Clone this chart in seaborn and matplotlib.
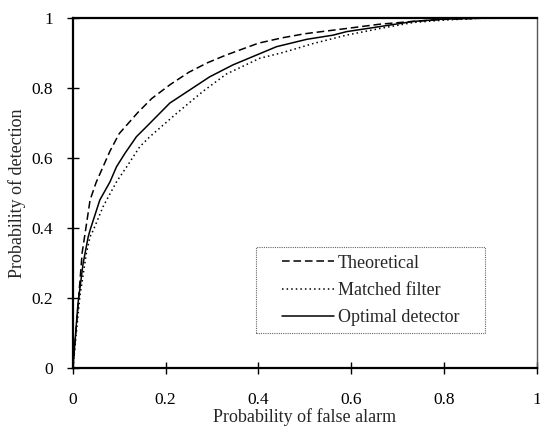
import pandas as pd
import matplotlib
matplotlib.use("Agg")
import matplotlib.pyplot as plt
from matplotlib.patches import Rectangle
import seaborn as sns

sns.set_style("ticks")
plt.rcParams['font.family'] = ['Liberation Serif', 'DejaVu Serif']

# ROC curves
theo_x = [0, 0.01, 0.02, 0.028, 0.037, 0.05, 0.065, 0.08, 0.1, 0.12, 0.14, 0.17, 0.21,
          0.25, 0.29, 0.33, 0.4, 0.45, 0.5, 0.59, 0.66, 0.73, 0.8, 0.9, 1.0]
theo_y = [0, 0.16, 0.33, 0.40, 0.48, 0.53, 0.575, 0.62, 0.67, 0.70, 0.73, 0.77, 0.81,
          0.845, 0.872, 0.894, 0.928, 0.943, 0.955, 0.97, 0.982, 0.99, 0.996, 1.0, 1.0]

mf_x = [0, 0.015, 0.029, 0.037, 0.044, 0.065, 0.094, 0.116, 0.144, 0.166, 0.224, 0.28,
        0.331, 0.403, 0.446, 0.475, 0.518, 0.59, 0.662, 0.733, 0.8, 0.877, 1.0]
mf_y = [0, 0.204, 0.328, 0.375, 0.394, 0.461, 0.532, 0.575, 0.632, 0.661, 0.728, 0.79,
        0.84, 0.885, 0.899, 0.91, 0.927, 0.951, 0.97, 0.987, 0.994, 0.999, 1.0]

opt_x = [0, 0.011, 0.022, 0.033, 0.037, 0.058, 0.08, 0.094, 0.112, 0.137, 0.159, 0.209,
         0.295, 0.345, 0.439, 0.504, 0.561, 0.59, 0.66, 0.733, 0.8, 0.9, 1.0]
opt_y = [0, 0.185, 0.299, 0.375, 0.394, 0.48, 0.532, 0.575, 0.613, 0.661, 0.69, 0.757,
         0.832, 0.866, 0.918, 0.939, 0.951, 0.961, 0.975, 0.99, 0.997, 1.0, 1.0]

names = ['Theoretical', 'Matched filter', 'Optimal detector']
ticks = [0, 0.2, 0.4, 0.6, 0.8, 1]
tick_labels = ['0', '0.2', '0.4', '0.6', '0.8', '1']

df = pd.concat([
    pd.DataFrame({'pfa': theo_x, 'pd': theo_y, 'curve': names[0]}),
    pd.DataFrame({'pfa': mf_x, 'pd': mf_y, 'curve': names[1]}),
    pd.DataFrame({'pfa': opt_x, 'pd': opt_y, 'curve': names[2]}),
])

fig = plt.figure(figsize=(5.4, 4.28), dpi=100)
ax = fig.add_axes([0.135, 0.14, 0.859, 0.818])

sns.lineplot(data=df, x='pfa', y='pd', hue='curve', style='curve',
             hue_order=names, style_order=names,
             palette={n: 'black' for n in names},
             dashes={names[0]: (5, 2.5), names[1]: (1, 2), names[2]: ''},
             linewidth=1.1, sort=False, errorbar=None, ax=ax)

ax.set_xlim(0, 1)
ax.set_ylim(0, 1)
ax.set_xticks(ticks)
ax.set_xticklabels(tick_labels)
ax.set_yticks(ticks)
ax.set_yticklabels(tick_labels)
ax.tick_params(direction='inout', length=8, width=1, labelsize=12.5, colors='black')
ax.tick_params(axis='x', pad=13)
ax.tick_params(axis='y', pad=10.5)
ax.set_xlabel('Probability of false alarm', fontsize=13, labelpad=0)
ax.set_ylabel('Probability of detection', fontsize=13, labelpad=4)

for side in ['left', 'bottom', 'top']:
    ax.spines[side].set_linewidth(1.6)
    ax.spines[side].set_color('black')
ax.spines['right'].set_visible(True)
ax.spines['right'].set_linewidth(1.0)
ax.spines['right'].set_color('#555555')

# legend box drawn separately (wide left margin like the original)
box = Rectangle((0.394, 0.1), 0.494, 0.246, transform=ax.transAxes, fill=False,
                edgecolor='#666666', linewidth=0.8, linestyle=(0, (1, 1)), zorder=3)
ax.add_patch(box)
leg = ax.legend(loc='upper left', bbox_to_anchor=(0.450, 0.324), borderaxespad=0,
                fontsize=13, handlelength=2.9, handletextpad=0.2, labelspacing=0.57,
                borderpad=0, frameon=False, title=None)

fig.savefig('out.png', dpi=100)
